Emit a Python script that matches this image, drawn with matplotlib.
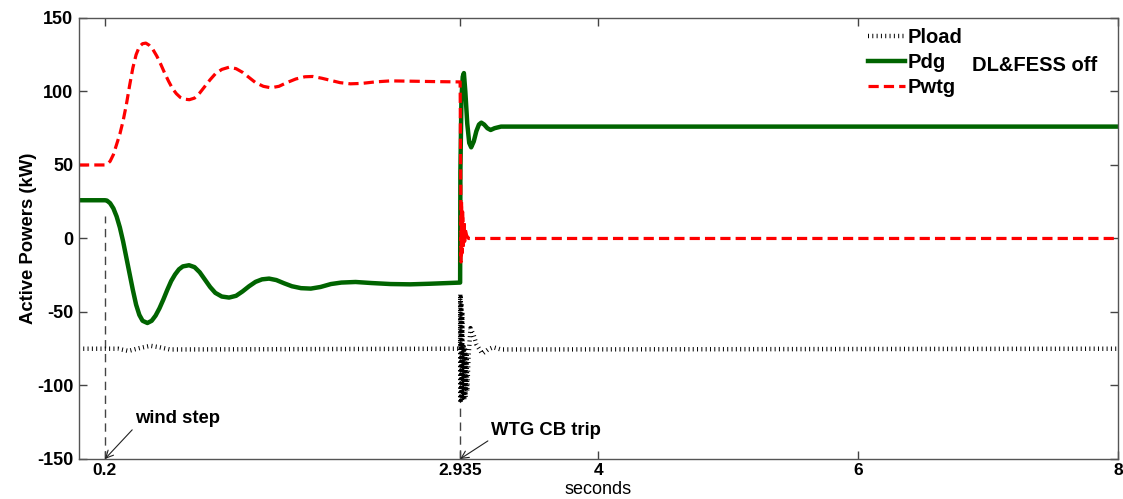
import matplotlib.pyplot as plt

plt.rcParams['font.family'] = ['Liberation Sans', 'DejaVu Sans']
plt.rcParams['axes.unicode_minus'] = False

# values (seconds, kW)
t_wtg = [0, 0.2, 0.215, 0.24, 0.265, 0.29, 0.315, 0.34, 0.365, 0.39, 0.415, 0.44, 0.465, 0.49,
         0.515, 0.54, 0.57, 0.60, 0.63, 0.66, 0.69, 0.72, 0.75, 0.78, 0.81, 0.85, 0.89, 0.93,
         0.97, 1.01, 1.05, 1.10, 1.156, 1.21, 1.26, 1.31, 1.36, 1.42, 1.477, 1.54, 1.60, 1.67,
         1.74, 1.80, 1.87, 1.94, 2.01, 2.09, 2.18, 2.28, 2.40, 2.55, 2.75, 2.935,
         2.94, 2.942, 2.946, 2.95, 2.955, 2.96, 2.965, 2.97, 2.975, 2.985, 3.0, 8.0]
p_wtg = [50, 50, 50.5, 52.5, 57, 64, 71, 80, 91, 104, 116, 125, 130.5, 132.5,
         132.9, 131.5, 128.5, 124, 118.5, 112.5, 107, 102, 98.5, 96, 94.8, 94.4, 95.5, 99,
         103.5, 108, 112, 115, 116.5, 115.5, 113, 109.5, 106, 103.5, 102.5, 103.5, 106, 108.5,
         110, 110.2, 109, 107.5, 106, 105.2, 105.5, 106.5, 107.2, 107, 106.7, 106.5,
         30, -16, 25, -10, 18, -5, 12, -2, 6, 2, 0, 0]

t_dg = [0, 0.2, 0.215, 0.24, 0.265, 0.29, 0.315, 0.34, 0.365, 0.39, 0.415, 0.44, 0.465, 0.49,
        0.527, 0.56, 0.59, 0.62, 0.65, 0.68, 0.71, 0.74, 0.77, 0.80, 0.848, 0.89, 0.93, 0.97,
        1.01, 1.05, 1.10, 1.156, 1.21, 1.26, 1.31, 1.36, 1.41, 1.464, 1.52, 1.58, 1.64, 1.71,
        1.785, 1.86, 1.94, 2.02, 2.13, 2.25, 2.40, 2.55, 2.70, 2.935,
        2.937, 2.945, 2.955, 2.964, 2.975, 2.99, 3.005, 3.02, 3.04, 3.06, 3.08, 3.098, 3.12,
        3.145, 3.17, 3.2, 3.25, 8.0]
p_dg = [26, 26, 25.8, 24, 20.5, 15, 7.5, -2, -13, -24, -35, -45, -52, -56,
        -57.5, -56, -52.5, -47.5, -41.5, -35, -29, -24.5, -21, -19, -18.2, -19.5, -23, -28,
        -33, -37, -39.5, -40.2, -39, -36, -32.5, -29.5, -27.8, -27.3, -28.3, -30.5, -32.5, -33.8,
        -34.1, -33, -31, -30, -29.6, -30.3, -31, -31.2, -30.8, -30,
        45, 95, 110, 112.5, 100, 78, 65, 62, 66, 73, 77.5, 78.8, 77.5,
        75, 73.8, 75, 76.1, 76.1]

t_load = [0, 0.3, 0.38, 0.47, 0.55, 0.62, 0.7, 2.935, 2.936, 2.938, 2.940, 2.943, 2.946, 2.949,
          2.953, 2.957, 2.962, 2.967, 2.972, 2.978, 2.984, 2.99, 3.0, 3.015, 3.04, 3.06, 3.105,
          3.15, 3.19, 3.25, 8.0]
p_load = [-75, -75, -76.5, -74.5, -73, -74, -75.5, -75, -38, -112, -40, -110, -44, -110,
          -50, -108, -72, -110, -74, -108, -78, -104, -80, -61, -66, -72, -78.4,
          -75.5, -74, -75.5, -75]

x_ticks = [0.2, 2.935, 4, 6, 8]
x_ticklabels = ['0.2', '2.935', '4', '6', '8']
y_ticks = [-150, -100, -50, 0, 50, 100, 150]

fig = plt.figure(figsize=(11.23, 4.99), dpi=100)
ax = fig.add_axes([0.0703, 0.0802, 0.9252, 0.8838])

# event markers
ax.plot([0.2, 0.2], [-150, 15], color='#444444', lw=1, linestyle=(0, (6, 4)))
ax.plot([2.935, 2.935], [-40, -150], color='#444444', lw=1, linestyle=(0, (6, 4)))

ax.plot(t_load, p_load, color='black', lw=3.2, linestyle=(0, (0.22, 0.75)),
        dash_capstyle='butt', label='Pload')
ax.plot(t_dg, p_dg, color='#006400', lw=3.2, label='Pdg')
ax.plot(t_wtg, p_wtg, color='#ff0000', lw=2.3, linestyle=(0, (3.2, 1.6)),
        dash_capstyle='butt', label='Pwtg')

ax.set_xlim(0, 8)
ax.set_ylim(-150, 150)
ax.set_xticks(x_ticks)
ax.set_xticklabels(x_ticklabels)
ax.set_yticks(y_ticks)
ax.tick_params(direction='in', length=6, width=1, color='#444444', top=True, right=True,
               labelsize=12.5, pad=3)
ax.tick_params(axis='y', labelsize=13, pad=4)
for lbl in ax.get_xticklabels() + ax.get_yticklabels():
    lbl.set_fontweight('bold')
for sp in ax.spines.values():
    sp.set_color('#555555')
    sp.set_linewidth(1)

ax.set_ylabel('Active Powers (kW)', fontsize=13.3, fontweight='bold', labelpad=0)
ax.set_xlabel('seconds', fontsize=13, va='bottom')
ax.xaxis.set_label_coords(0.5, -0.0895)

ax.legend(loc='upper left', bbox_to_anchor=(0.759, 0.978), frameon=False,
          prop={'weight': 'bold', 'size': 14.5}, borderpad=0, borderaxespad=0,
          handlelength=1.85, handletextpad=0.15, labelspacing=0.3)
ax.text(0.860, 0.893, 'DL&FESS off', transform=ax.transAxes, fontsize=14.5,
        fontweight='bold', va='center', ha='left')

arrow = dict(arrowstyle='->', color='#222222', lw=0.8, relpos=(0, 0), shrinkA=0, shrinkB=0)
ax.annotate('wind step', xy=(0.2, -150), xytext=(0.43, -122.5), fontsize=13.3,
            fontweight='bold', va='center', ha='left', arrowprops=arrow)
ax.annotate('WTG CB trip', xy=(2.935, -150), xytext=(3.17, -130.7), fontsize=13.3,
            fontweight='bold', va='center', ha='left', arrowprops=arrow)

fig.savefig('out.png', dpi=100)
